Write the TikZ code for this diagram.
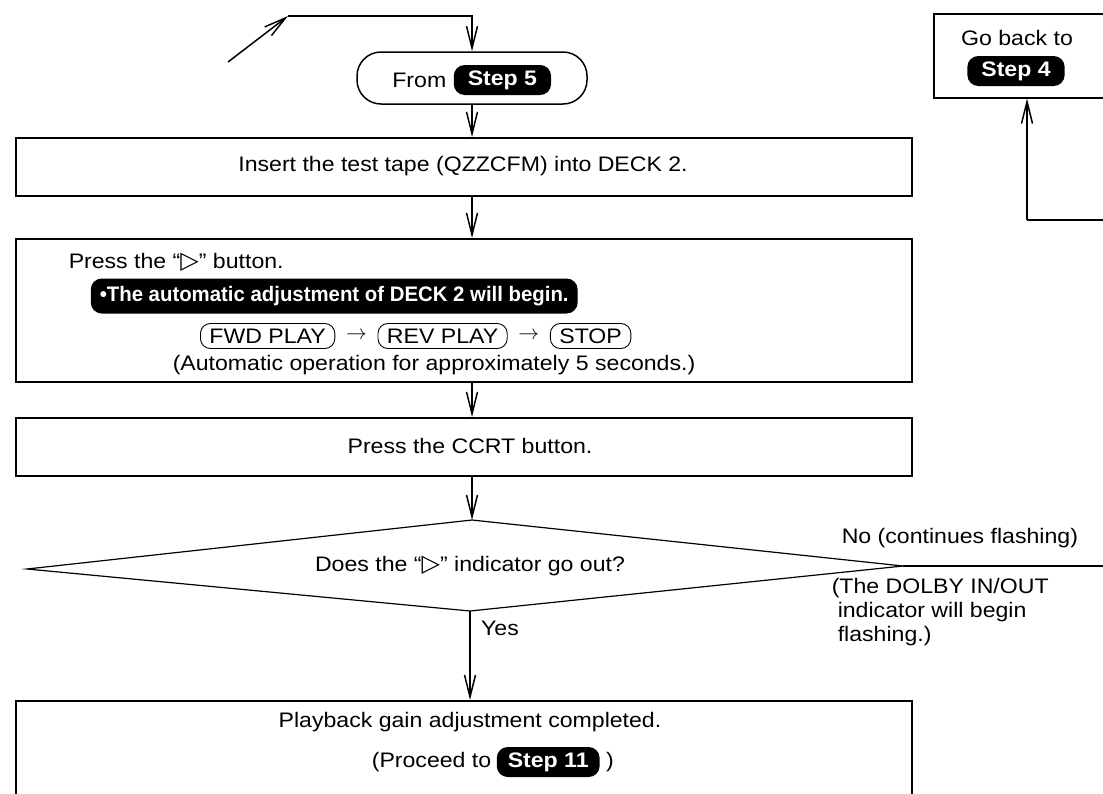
\documentclass[tikz,border=0pt]{standalone}
\usepackage{fontspec}
\setmainfont[FakeStretch=1.1]{Liberation Sans}
\newfontfamily\symfont{DejaVu Sans}
\newfontfamily\banfont[FakeStretch=0.97]{Liberation Sans}
\usetikzlibrary{arrows.meta,positioning}
\begin{document}
\begin{tikzpicture}[x=1pt,y=-1pt,
  line width=1.5pt,
  vtip/.tip={Straight Barb[length=22pt,width=11pt]},
  flow/.style={-vtip},
  box/.style={draw, rectangle, inner sep=0pt, anchor=north west},
  txt/.style={font=\fontsize{21}{24}\selectfont, inner sep=0pt},
  tri/.style={},
  pill/.style={fill=black, text=white, rounded corners=11pt, font=\fontsize{21}{24}\selectfont\bfseries, inner xsep=14pt, inner ysep=0pt, minimum height=30pt},
  keycap/.style={draw, rounded corners=10pt, line width=0.9pt, font=\fontsize{21}{24}\selectfont, inner xsep=9pt, inner ysep=0pt, minimum height=25pt}
]
\useasboundingbox (0,0) rectangle (1103,793);
\clip (0,0) rectangle (1103,793);

% start terminal
\node[draw, rounded corners=24pt, minimum width=230pt, minimum height=52pt, inner sep=0pt] (from) at (472,78) {};
\node[txt, anchor=east] (fromtxt) at (447,80) {From};
\node[pill, anchor=west] (s5) at (453,80) {Step 5};
\coordinate (tail) at (228,62);
\coordinate (head) at (288,16);
\draw[flow] (tail) -- (head);
\draw[flow] (head) -- (head -| from.north) -- (from.north);

% box 1
\node[box, minimum width=896pt, minimum height=58pt] (b1) at (15,137) {};
\node[txt] (b1t) at (463,166) {Insert the test tape (QZZCFM) into DECK 2.};
\draw[flow] (from.south) -- (from.south |- b1.north);

% box 2
\node[box, minimum width=896pt, minimum height=143pt] (b2) at (15,238) {};
\draw[flow] (b1.south -| from.south) -- (b2.north -| from.south);
\node[txt, anchor=west] (press) at (68,262) {Press the “{\symfont\fontsize{24}{24}\selectfont ▷}” button.};
\node[pill, anchor=west, rounded corners=11pt, minimum height=35pt, inner xsep=9pt, font=\fontsize{21}{24}\selectfont\banfont\bfseries] (ban) at (90,296) {•The automatic adjustment of DECK 2 will begin.};
\node[keycap, anchor=west] (fwd) at (200,336) {FWD PLAY};
\node[txt, right=10pt of fwd] (ar1) {$\rightarrow$};
\node[keycap, right=10pt of ar1] (rev) {REV PLAY};
\node[txt, right=10pt of rev] (ar2) {$\rightarrow$};
\node[keycap, right=10pt of ar2] (stop) {STOP};
\node[txt, anchor=west] (auto) at (172,365) {(Automatic operation for approximately 5 seconds.)};

% box 3
\node[box, minimum width=896pt, minimum height=58pt] (b3) at (15,417) {};
\draw[flow] (b2.south -| from.south) -- (b3.north -| from.south);
\node[txt] (b3t) at (470,446) {Press the CCRT button.};

% decision
\coordinate (dt) at (472,520);
\coordinate (dl) at (27,569);
\coordinate (dr) at (903,566);
\coordinate (db) at (470,611);
\draw[line width=1.2pt] (dt) -- (dr) -- (db) -- (dl) -- cycle;
\draw[flow] (b3.south -| dt) -- (dt);
\node[txt] (dq) at (470,566) {Does the “{\symfont\fontsize{24}{24}\selectfont ▷}” indicator go out?};
\draw[line width=1.3pt] (dr) -- (1110,566);
\node[txt, anchor=west] (no) at (841,538) {No (continues flashing)};
\node[anchor=north west, inner sep=0pt, align=left, font=\fontsize{21}{24}\selectfont] (dolby) at (831,578) {(The DOLBY IN/OUT\\\hspace*{6pt}indicator will begin\\\hspace*{6pt}flashing.)};

% box 4
\node[box, minimum width=896pt, minimum height=120pt] (b4) at (15,700) {};
\draw[flow] (db) -- (b4.north -| db);
\node[txt] (yes) at (500,628) {Yes};
\node[txt] (b4t) at (470,722) {Playback gain adjustment completed.};
\node[txt, anchor=east] (p1) at (492,762) {(Proceed to};
\node[pill, right=4pt of p1, inner xsep=11pt] (s11) {Step 11};
\node[txt, right=5pt of s11] (p2) {)};

% go back box
\node[box, minimum width=190pt, minimum height=84pt] (gb) at (933,13) {};
\node[txt] (gbt) at (1017,38) {Go back to};
\node[pill] (s4) at (1016,71) {Step 4};
\coordinate (gbc) at (1027,220);
\draw[flow] (gbc) -- (gbc |- gb.south);
\draw (gbc) -- (1110,220);
\end{tikzpicture}
\end{document}
